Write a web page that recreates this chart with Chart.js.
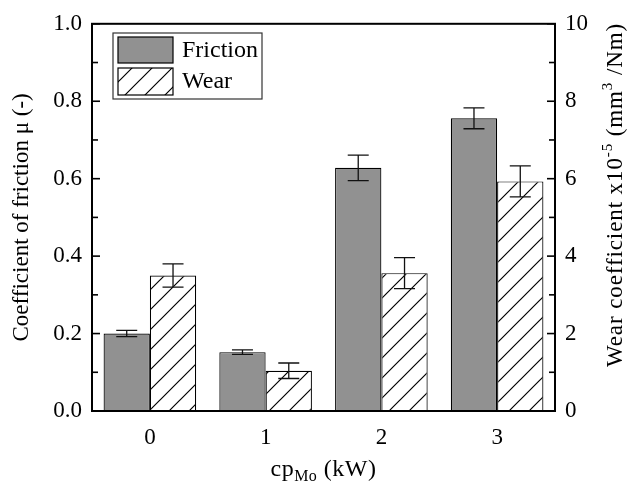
<!DOCTYPE html>
<html>
<head>
<meta charset="utf-8">
<script src="https://cdn.jsdelivr.net/npm/chart.js@4.4.1/dist/chart.umd.min.js"></script>
<style>
  html, body { margin: 0; padding: 0; background: #fff; }
  #wrap { width: 633px; height: 484px; }
</style>
</head>
<body>
<div id="wrap"><canvas id="chart"></canvas></div>
<script>
// -------------------- DATA --------------------
const categories = ["0", "1", "2", "3"];
const friction = [0.200, 0.152, 0.628, 0.756];
const frictionErr = [0.008, 0.006, 0.033, 0.027];
const wear = [3.50, 1.04, 3.56, 5.93];
const wearErr = [0.30, 0.20, 0.40, 0.40];

const FONT = "'Liberation Serif', 'DejaVu Serif', serif";
const GRAY = "#919191";

// -------------------- HATCH --------------------
function makeHatch() {
    const c = document.createElement("canvas");
    c.width = 20;
    c.height = 20;
    const p = c.getContext("2d");
    p.fillStyle = "#fff";
    p.fillRect(0, 0, 20, 20);
    p.strokeStyle = "#000";
    p.lineWidth = 1.2;
    p.beginPath();
    p.moveTo(-2, 22); p.lineTo(22, -2);
    p.moveTo(-2, 2); p.lineTo(2, -2);
    p.moveTo(18, 22); p.lineTo(22, 18);
    p.stroke();
    return p.createPattern(c, "repeat");
}
const hatch = makeHatch();

// -------------------- EXTRAS --------------------
function drawRuns(ctx, runs, x, y, spacing) {
    // runs: [text, size, dy]
    ctx.letterSpacing = (spacing || 0) + "px";
    let total = 0;
    runs.forEach(r => {
        ctx.font = r[1] + "px " + FONT;
        total += ctx.measureText(r[0]).width;
    });
    let cx = x - total / 2;
    runs.forEach(r => {
        ctx.font = r[1] + "px " + FONT;
        ctx.fillText(r[0], cx, y + r[2]);
        cx += ctx.measureText(r[0]).width;
    });
    ctx.letterSpacing = "0px";
}

const extrasPlugin = {
    id: "extras",

    afterDatasetsDraw(chart) {
        const { ctx } = chart;
        const errs = [frictionErr, wearErr];
        ctx.save();
        ctx.strokeStyle = "#111";
        ctx.lineWidth = 1.3;
        chart.data.datasets.forEach((ds, di) => {
            const meta = chart.getDatasetMeta(di);
            const sc = chart.scales[ds.yAxisID];
            meta.data.forEach((bar, i) => {
                const v = ds.data[i];
                const e = errs[di][i];
                const hi = sc.getPixelForValue(v + e);
                const lo = sc.getPixelForValue(v - e);
                ctx.beginPath();
                ctx.moveTo(bar.x, hi); ctx.lineTo(bar.x, lo);
                ctx.moveTo(bar.x - 10.5, hi); ctx.lineTo(bar.x + 10.5, hi);
                ctx.moveTo(bar.x - 10.5, lo); ctx.lineTo(bar.x + 10.5, lo);
                ctx.stroke();
            });
        });
        ctx.restore();
    },

    afterDraw(chart) {
        const { ctx, chartArea: a } = chart;
        ctx.save();

        // frame
        ctx.strokeStyle = "#000";
        ctx.lineWidth = 2;
        ctx.strokeRect(a.left, a.top, a.right - a.left, a.bottom - a.top);

        // inward ticks
        ctx.lineWidth = 1.6;
        const yl = chart.scales.y;
        yl.ticks.forEach(t => {
            const py = yl.getPixelForValue(t.value);
            const major = Math.round(t.value * 10) % 2 === 0;
            ctx.beginPath();
            ctx.moveTo(a.left, py); ctx.lineTo(a.left + (major ? 8 : 6), py);
            ctx.stroke();
        });
        const yr = chart.scales.y1;
        yr.ticks.forEach(t => {
            const py = yr.getPixelForValue(t.value);
            const major = Math.round(t.value) % 2 === 0;
            ctx.beginPath();
            ctx.moveTo(a.right, py); ctx.lineTo(a.right - (major ? 8 : 6), py);
            ctx.stroke();
        });

        // legend
        ctx.lineWidth = 1.2;
        ctx.strokeStyle = "#333";
        ctx.strokeRect(113, 33, 149, 66);
        ctx.strokeStyle = "#000";
        ctx.fillStyle = GRAY;
        ctx.fillRect(118, 37, 55, 26);
        ctx.strokeRect(118, 37, 55, 26);
        ctx.fillStyle = hatch;
        ctx.fillRect(118, 68, 55, 27);
        ctx.strokeRect(118, 68, 55, 27);
        ctx.fillStyle = "#000";
        ctx.font = "24px " + FONT;
        ctx.textBaseline = "middle";
        ctx.textAlign = "left";
        ctx.fillText("Friction", 182, 51);
        ctx.fillText("Wear", 182, 82);

        // x title with subscript
        ctx.textBaseline = "alphabetic";
        drawRuns(ctx, [["cp", 24, 0], ["Mo", 16, 5], [" (kW)", 24, 0]],
            (a.left + a.right) / 2, 476, 0.5);

        // right title with superscripts
        ctx.translate(616, 195);
        ctx.rotate(-Math.PI / 2);
        ctx.textBaseline = "middle";
        drawRuns(ctx, [
            ["Wear coefficient x10", 23, 0],
            ["-5", 15, -8],
            [" (mm", 23, 0],
            ["3", 15, -8],
            [" /Nm)", 23, 0]
        ], 0, 0, 0.9);

        ctx.restore();
    }
};

// -------------------- CHART --------------------
new Chart(document.getElementById("chart"), {
    type: "bar",
    plugins: [extrasPlugin],
    data: {
        labels: categories,
        datasets: [
            {
                label: "Friction",
                data: friction,
                yAxisID: "y",
                backgroundColor: GRAY,
                borderColor: "#000",
                borderWidth: 1.2,
                categoryPercentage: 0.8,
                barPercentage: 1.0
            },
            {
                label: "Wear",
                data: wear,
                yAxisID: "y1",
                backgroundColor: hatch,
                borderColor: "#000",
                borderWidth: 1.2,
                categoryPercentage: 0.8,
                barPercentage: 1.0
            }
        ]
    },
    options: {
        responsive: true,
        maintainAspectRatio: false,
        animation: false,
        layout: { padding: { top: 22, left: 0, right: 0, bottom: 0 } },
        plugins: {
            legend: { display: false },
            tooltip: { enabled: false }
        },
        scales: {
            x: {
                grid: { display: false, drawTicks: false },
                border: { display: false },
                ticks: {
                    color: "#000",
                    padding: 13,
                    font: { family: FONT, size: 23 }
                },
                afterFit(s) { s.height = 73; }
            },
            y: {
                position: "left",
                min: 0,
                max: 1,
                grid: { display: false, drawTicks: false },
                border: { display: false },
                ticks: {
                    stepSize: 0.1,
                    autoSkip: false,
                    color: "#000",
                    padding: 10,
                    font: { family: FONT, size: 23 },
                    callback: v => (Math.round(v * 10) % 2 === 0 ? v.toFixed(1) : "")
                },
                title: {
                    display: true,
                    text: "Coefficient of friction μ (-)",
                    color: "#000",
                    padding: { top: 8, bottom: 0 },
                    font: { family: FONT, size: 23 }
                },
                afterFit(s) { s.width = 92; }
            },
            y1: {
                position: "right",
                min: 0,
                max: 10,
                grid: { display: false, drawTicks: false },
                border: { display: false },
                ticks: {
                    stepSize: 1,
                    autoSkip: false,
                    color: "#000",
                    padding: 10,
                    font: { family: FONT, size: 23 },
                    callback: v => (Math.round(v) % 2 === 0 ? String(v) : "")
                },
                afterFit(s) { s.width = 78; }
            }
        }
    }
});
</script>
</body>
</html>
